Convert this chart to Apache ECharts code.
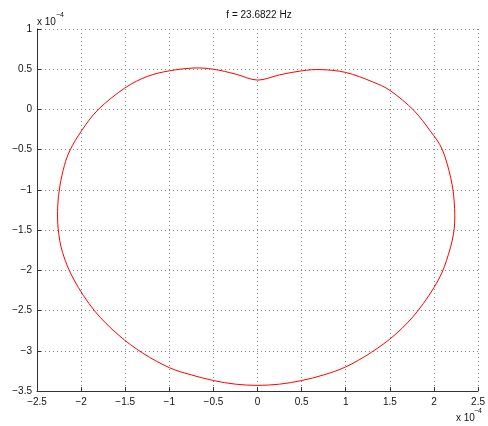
<!DOCTYPE html>
<html>
<head>
<meta charset="utf-8">
<script src="https://cdn.jsdelivr.net/npm/echarts@6/dist/echarts.min.js"></script>
<style>html,body{margin:0;padding:0;background:#fff}#c{width:488px;height:426px}</style>
</head>
<body>
<div id="c"></div>
<script>
// values in units of 1e-4, traced clockwise from the top dip (closed curve)
var curveX = [0, 0.25, 0.5, 0.72, 1.0, 1.3, 1.51, 1.77, 1.96, 2.095, 2.19, 2.23, 2.23, 2.165, 2.05, 1.82, 1.57, 1.29, 1.0, 0.75, 0.5, 0.25,
  0, -0.25, -0.5, -0.75, -1.0, -1.30, -1.58, -1.85, -2.08, -2.21, -2.26, -2.265, -2.24, -2.19, -2.125, -1.995, -1.805, -1.505, -1.25, -1.0, -0.72, -0.5, -0.25];
var curveY = [0.365, 0.43, 0.48, 0.495, 0.46, 0.345, 0.23, -0.01, -0.27, -0.5, -0.85, -1.15, -1.48, -1.8, -2.12, -2.5, -2.79, -3.02, -3.20, -3.30, -3.37, -3.415,
  -3.43, -3.415, -3.37, -3.30, -3.21, -3.03, -2.80, -2.50, -2.12, -1.78, -1.48, -1.2, -0.95, -0.70, -0.505, -0.265, 0.0, 0.266, 0.41, 0.48, 0.515, 0.50, 0.44];
var xRange = [-2.5, 2.5, 0.5];
var yRange = [-3.5, 1, 0.5];
var titleText = 'f = 23.6822 Hz';
var expBase = 'x 10';
var expPow = '\u22124';

var fmt = function (v) { return (v < 0 ? '\u2212' : '') + String(Math.abs(v)); };
var font = 'Liberation Sans, Arial, Helvetica, sans-serif';

// closed smooth curve through the read points, positioned by the chart's own axes
function renderCurve(params, api) {
  var n = curveX.length;
  var p = [];
  for (var i = 0; i < n; i++) p.push(api.coord([curveX[i], curveY[i]]));
  var d = 'M' + p[0][0] + ' ' + p[0][1];
  for (var k = 0; k < n; k++) {
    var p0 = p[(k - 1 + n) % n], p1 = p[k], p2 = p[(k + 1) % n], p3 = p[(k + 2) % n];
    var c1x = p1[0] + (p2[0] - p0[0]) / 6, c1y = p1[1] + (p2[1] - p0[1]) / 6;
    var c2x = p2[0] - (p3[0] - p1[0]) / 6, c2y = p2[1] - (p3[1] - p1[1]) / 6;
    d += 'C' + c1x + ' ' + c1y + ' ' + c2x + ' ' + c2y + ' ' + p2[0] + ' ' + p2[1];
  }
  d += 'Z';
  return {type: 'path', shape: {pathData: d}, style: {fill: null, stroke: '#ff0000', lineWidth: 1}};
}

var chart = echarts.init(document.getElementById('c'), null, {renderer: 'canvas'});
chart.setOption({
  animation: false,
  backgroundColor: '#fff',
  grid: {left: 37, top: 29, width: 445, height: 362, containLabel: false},
  xAxis: {
    type: 'value', min: xRange[0], max: xRange[1], interval: xRange[2],
    axisLine: {show: true, onZero: false, lineStyle: {color: '#333', width: 1}},
    axisTick: {show: true, inside: true, length: 4, lineStyle: {color: '#333'}},
    axisLabel: {formatter: fmt, color: '#111', fontSize: 10, fontFamily: font, margin: 6, showMinLabel: true, showMaxLabel: true},
    splitLine: {show: true, lineStyle: {color: '#888', type: [1, 3], width: 1}}
  },
  yAxis: {
    type: 'value', min: yRange[0], max: yRange[1], interval: yRange[2],
    axisLine: {show: true, onZero: false, lineStyle: {color: '#333', width: 1}},
    axisTick: {show: true, inside: true, length: 4, lineStyle: {color: '#333'}},
    axisLabel: {formatter: fmt, color: '#111', fontSize: 10, fontFamily: font, margin: 5, showMinLabel: true, showMaxLabel: true},
    splitLine: {show: true, lineStyle: {color: '#888', type: [1, 3], width: 1}}
  },
  series: [{
    type: 'custom', coordinateSystem: 'cartesian2d', renderItem: renderCurve,
    data: [[curveX[0], curveY[0]]], silent: true
  }],
  graphic: [
    {type: 'text', x: 259, y: 10, style: {text: titleText, fill: '#111', font: '10px ' + font, textAlign: 'center'}},
    {type: 'text', x: 37, y: 17, style: {text: expBase, fill: '#111', font: '10px ' + font}},
    {type: 'text', x: 56, y: 12, style: {text: expPow, fill: '#111', font: '7px ' + font}},
    {type: 'text', x: 456, y: 413, style: {text: expBase, fill: '#111', font: '10px ' + font}},
    {type: 'text', x: 474, y: 408, style: {text: expPow, fill: '#111', font: '7px ' + font}}
  ]
});
</script>
</body>
</html>
